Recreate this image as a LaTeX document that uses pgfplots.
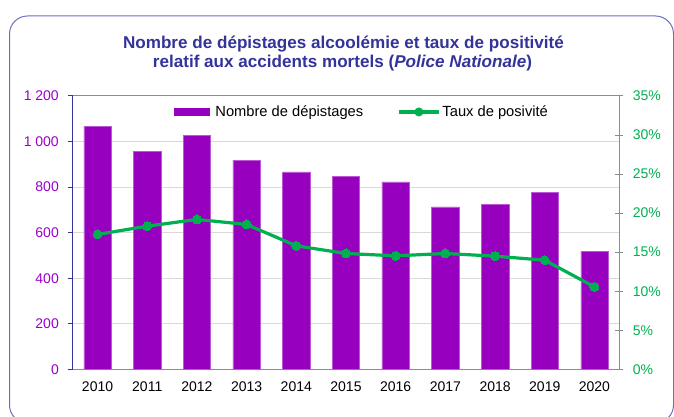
\documentclass[border=0pt]{standalone}
\usepackage{pgfplots}
\pgfplotsset{compat=1.18}
\usepackage{fontspec}
\setmainfont{Liberation Sans}
\definecolor{barcol}{RGB}{150,0,190}
\definecolor{labpurple}{RGB}{153,0,204}
\definecolor{linegreen}{RGB}{0,176,80}
\definecolor{titlecol}{RGB}{51,51,153}
\definecolor{navy}{RGB}{51,51,153}
\definecolor{bordercol}{RGB}{110,110,190}
\definecolor{gridcol}{RGB}{217,217,217}
\definecolor{axgray}{RGB}{140,140,140}
\begin{document}
\begin{tikzpicture}
\useasboundingbox (0pt,0pt) rectangle (674pt,417pt);
\clip (0pt,0pt) rectangle (674pt,417pt);
\draw[bordercol, line width=1pt, rounded corners=18pt] (9.5pt,-6pt) rectangle (673.5pt,401pt);
\node[anchor=base, font=\bfseries\fontsize{17.1}{20}\selectfont, text=titlecol, inner sep=0pt] at (343.5pt,368.5pt) {Nombre de dépistages alcoolémie et taux de positivité};
\node[anchor=base, font=\bfseries\fontsize{17.1}{20}\selectfont, text=titlecol, inner sep=0pt] at (342.5pt,349.5pt) {relatif aux accidents mortels (\textit{Police Nationale})};
\begin{axis}[
  at={(72.7pt,47.7pt)}, anchor=south west,
  scale only axis, width=546.6pt, height=273.3pt,
  xmin=-0.5, xmax=10.5, ymin=0, ymax=1200,
  axis x line*=box, axis y line*=left,
  separate axis lines,
  x axis line style={axgray, line width=1pt},
  y axis line style={navy, line width=1pt},
  xtick={0,...,10},
  xticklabels={2010,2011,2012,2013,2014,2015,2016,2017,2018,2019,2020},
  major x tick style={draw=none},
  ytick={0,200,400,600,800,1000,1200},
  yticklabels={0,200,400,600,800,1 000,1 200},
  major y tick style={navy, line width=1pt},
  tick align=outside, major tick length=5pt,
  ymajorgrids, grid style={gridcol, line width=1pt},
  xticklabel style={font=\fontsize{14}{16}\selectfont, text=black, inner sep=0pt, yshift=-7.3pt},
  yticklabel style={font=\fontsize{14}{16}\selectfont, text=labpurple, inner sep=0pt, xshift=-8.7pt},
]
\addplot[ybar, bar width=27.4pt, fill=barcol, draw=barcol!65!white, line width=0.5pt] coordinates {
(0,1068) (1,958) (2,1028) (3,917) (4,867) (5,847) (6,823) (7,713) (8,725) (9,777) (10,519)};
\end{axis}
\begin{axis}[
  at={(72.7pt,47.7pt)}, anchor=south west,
  scale only axis, width=546.6pt, height=273.3pt,
  xmin=-0.5, xmax=10.5, ymin=0, ymax=35,
  axis x line=none, axis y line*=right,
  y axis line style={axgray, line width=1pt},
  ytick={0,5,10,15,20,25,30,35},
  yticklabels={0\%,5\%,10\%,15\%,20\%,25\%,30\%,35\%},
  major y tick style={axgray, line width=1pt},
  tick align=center, major tick length=8pt,
  yticklabel style={font=\fontsize{14}{16}\selectfont, text=linegreen, inner sep=0pt, xshift=9.4pt},
  legend columns=2,
  legend style={draw=none, fill=none, inner sep=0pt, outer sep=0pt,
    at={(0.1853,0.9415)}, anchor=west,
    font=\fontsize{14.7}{16}\selectfont,
    nodes={inner sep=0pt},
    /tikz/every odd column/.append style={column sep=2pt},
    /tikz/every even column/.append style={column sep=34pt}},
]
\addlegendimage{legend image code/.code={\fill[barcol] (0pt,-3.5pt) rectangle (35pt,3.5pt); \path (39pt,0pt);}}
\addlegendentry{Nombre de dépistages}
\addplot[linegreen, line width=3.2pt, mark=*, mark size=4.5pt, mark options={fill=linegreen, draw=linegreen, line width=0pt},
  legend image code/.code={\draw[linegreen, line width=3.2pt] (0pt,0pt) -- (40pt,0pt); \fill[linegreen] (20pt,0pt) circle (2.8pt);}] coordinates {
(0,17.27) (1,18.33) (2,19.19) (3,18.55) (4,15.81) (5,14.83) (6,14.53) (7,14.83) (8,14.49) (9,13.97) (10,10.55)};
\addlegendentry{Taux de posivité}
\end{axis}
\end{tikzpicture}
\end{document}
